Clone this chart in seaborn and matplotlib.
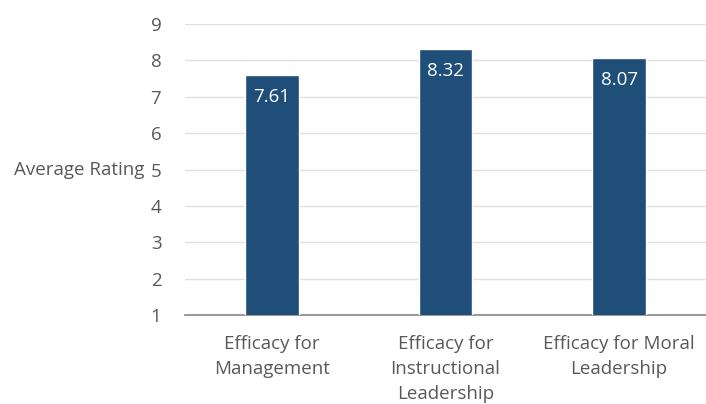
import pandas as pd
import seaborn as sns
import matplotlib.pyplot as plt

categories = ['Efficacy for\nManagement', 'Efficacy for\nInstructional\nLeadership', 'Efficacy for Moral\nLeadership']
ratings = [7.61, 8.32, 8.07]
y_ticks = [1, 2, 3, 4, 5, 6, 7, 8, 9]


def rating_bar_chart():
    df = pd.DataFrame({'category': categories, 'rating': ratings})

    sns.set_style('white')
    plt.rcParams['font.family'] = ['Open Sans', 'DejaVu Sans']

    fig = plt.figure(figsize=(7.06, 4.04), dpi=100)
    ax = fig.add_axes([0.262, 0.22, 0.738, 0.7206])

    sns.barplot(x='category', y='rating', data=df, ax=ax, color='#1f4e79',
                saturation=1, width=0.31, zorder=3)

    ax.set_ylim(1, 9)
    ax.set_yticks(y_ticks)
    ax.set_xlim(-0.5, 2.5)
    ax.yaxis.grid(True, color='#e0e0e0', linewidth=1, zorder=0)
    ax.set_axisbelow(True)
    sns.despine(ax=ax, left=True, top=True, right=True)
    ax.spines['bottom'].set_color('#868686')
    ax.spines['bottom'].set_linewidth(1.2)

    for i, v in enumerate(ratings):
        ax.text(i, v - 0.62, f'{v:.2f}', ha='center', va='center',
                color='white', fontsize=13.5, zorder=4)

    ax.tick_params(axis='y', length=0, pad=17, labelsize=13.5, labelcolor='#595959')
    ax.tick_params(axis='x', length=0, pad=14, labelsize=13.5, labelcolor='#595959')
    for lbl in ax.get_xticklabels():
        lbl.set_linespacing(1.5)
    ax.set_xlabel('')
    ax.set_ylabel('Average Rating', rotation=0, fontsize=13.5, color='#595959',
                  ha='right', va='center', labelpad=0)
    ax.yaxis.set_label_coords(-0.077, 0.5)

    fig.savefig('out.png', dpi=100)


def main():
    rating_bar_chart()


if (__name__ == '__main__'):
    main()
